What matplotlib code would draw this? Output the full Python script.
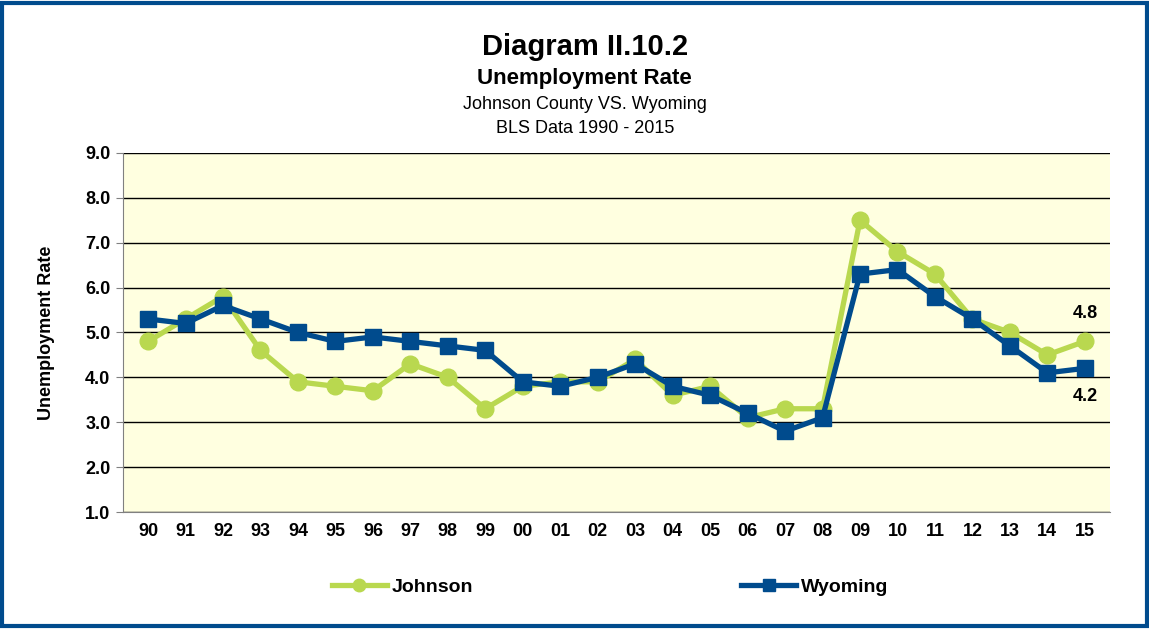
import matplotlib.pyplot as plt
from matplotlib.patches import Rectangle

plt.rcParams['font.family'] = ['Liberation Sans', 'DejaVu Sans']

years = ["90", "91", "92", "93", "94", "95", "96", "97", "98", "99", "00", "01", "02",
         "03", "04", "05", "06", "07", "08", "09", "10", "11", "12", "13", "14", "15"]
johnson = [4.8, 5.3, 5.8, 4.6, 3.9, 3.8, 3.7, 4.3, 4.0, 3.3, 3.8, 3.9, 3.9,
           4.4, 3.6, 3.8, 3.1, 3.3, 3.3, 7.5, 6.8, 6.3, 5.3, 5.0, 4.5, 4.8]
wyoming = [5.3, 5.2, 5.6, 5.3, 5.0, 4.8, 4.9, 4.8, 4.7, 4.6, 3.9, 3.8, 4.0,
           4.3, 3.8, 3.6, 3.2, 2.8, 3.1, 6.3, 6.4, 5.8, 5.3, 4.7, 4.1, 4.2]

green = "#B9D84F"
blue = "#004B8D"

fig = plt.figure(figsize=(11.49, 6.29), dpi=100)
ax = fig.add_axes([0.107, 0.186, 0.859, 0.571])
ax.set_facecolor("#FFFFE0")

x = range(len(years))
ax.plot(x, johnson, color=green, lw=3.8, marker="o", ms=12, label="Johnson", zorder=3)
ax.plot(x, wyoming, color=blue, lw=3.8, marker="s", ms=12, label="Wyoming", zorder=4)

ax.annotate(f"{johnson[-1]:.1f}", (x[-1], johnson[-1]), xytext=(0, 14), textcoords="offset points",
            ha="center", va="bottom", fontsize=13, fontweight="bold")
ax.annotate(f"{wyoming[-1]:.1f}", (x[-1], wyoming[-1]), xytext=(0, -14), textcoords="offset points",
            ha="center", va="top", fontsize=13, fontweight="bold")

ax.set_xlim(-0.67, len(years) - 0.33)
ax.set_ylim(1.0, 9.0)
ax.set_yticks([1, 2, 3, 4, 5, 6, 7, 8, 9])
ax.set_yticklabels([f"{v:.1f}" for v in range(1, 10)], fontsize=13, fontweight="bold")
ax.set_xticks(list(x))
ax.set_xticklabels(years, fontsize=13, fontweight="bold")
ax.tick_params(axis="x", length=0, pad=8)
ax.tick_params(axis="y", length=5, color="#808080", pad=4)
ax.grid(axis="y", color="black", lw=1)
ax.set_axisbelow(True)
for s in ["top", "right"]:
    ax.spines[s].set_visible(False)
ax.spines["left"].set_color("#808080")
ax.spines["bottom"].set_color("#808080")
ax.set_ylabel("Unemployment Rate", fontsize=13, fontweight="bold", labelpad=22)

fig.text(0.509, 0.912, "Diagram II.10.2", ha="center", fontsize=21, fontweight="bold")
fig.text(0.509, 0.866, "Unemployment Rate", ha="center", fontsize=16, fontweight="bold")
fig.text(0.509, 0.826, "Johnson County VS. Wyoming", ha="center", fontsize=13)
fig.text(0.509, 0.788, "BLS Data 1990 - 2015", ha="center", fontsize=13)

fig.legend(loc="center", bbox_to_anchor=(0.531, 0.066), ncol=2, frameon=False,
           prop={"size": 14, "weight": "bold"}, handlelength=2.8, handletextpad=0.25,
           columnspacing=13.8, markerscale=0.75)

fig.patches.append(Rectangle((0.002, 0.004), 0.996, 0.992, transform=fig.transFigure,
                             fill=False, edgecolor=blue, lw=3))

fig.savefig("out.png", dpi=100)
